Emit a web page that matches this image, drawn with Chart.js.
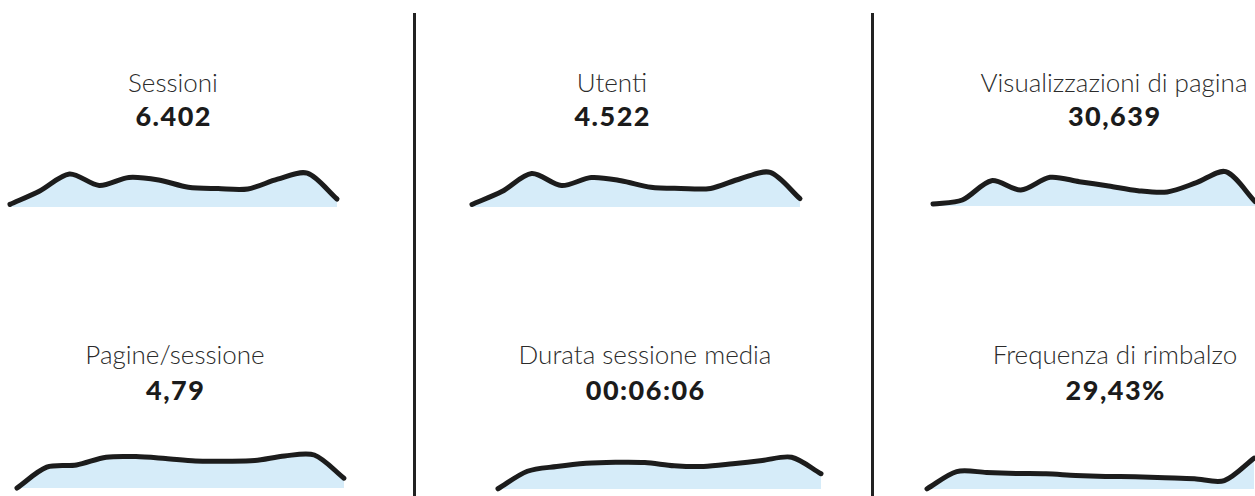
<!DOCTYPE html>
<html>
<head>
<meta charset="utf-8">
<script src="https://cdn.jsdelivr.net/npm/chart.js@4"></script>
<style>
  html, body { margin: 0; padding: 0; background: #fff; }
  body { width: 1255px; height: 496px; position: relative; overflow: hidden; }
  .t { position: absolute; font-family: Lato, "Open Sans", sans-serif; white-space: nowrap; line-height: 1.2; transform: translateX(-50%); }
  .title { font-weight: 300; font-size: 26px; color: #2b2b2b; }
  .val { font-weight: 900; font-size: 27px; color: #1b1b1b; letter-spacing: 1.5px; }
  .div { position: absolute; top: 13px; bottom: 0; width: 3px; background: #222; }
  canvas { position: absolute; }
</style>
</head>
<body>
<div class="div" style="left:413px"></div>
<div class="div" style="left:871px"></div>
<script>
// ---- data ----
const months = ['Gen','Feb','Mar','Apr','Mag','Giu','Lug','Ago','Set','Ott','Nov','Dic'];
const titles = ['Sessioni','Utenti','Visualizzazioni di pagina','Pagine/sessione','Durata sessione media','Frequenza di rimbalzo'];
const totals = ['6.402','4.522','30,639','4,79','00:06:06','29,43%'];
const sessioni = [440, 507, 592, 535, 575, 562, 526, 519, 517, 566, 596, 467];
const utenti = [311, 356, 419, 377, 405, 394, 371, 367, 367, 401, 423, 331];
const visualizzazioni = [2079, 2199, 2778, 2499, 2880, 2748, 2619, 2478, 2439, 2718, 3048, 2154];
const pagineSessione = [3.58, 4.62, 4.73, 5.12, 5.15, 5.05, 4.93, 4.92, 4.95, 5.18, 5.23, 4.07];
const durataSecondi = [278, 348, 367, 380, 384, 383, 370, 367, 378, 391, 404, 338];
const rimbalzo = [22.7, 31.3, 30.9, 30.4, 30.2, 29.4, 28.9, 28.7, 28.2, 27.7, 26.8, 38.0];
const seriesList = [sessioni, utenti, visualizzazioni, pagineSessione, durataSecondi, rimbalzo];
const yMin = [427, 302, 2019, 3.58, 277, 22.6];
const yMax = [627, 442, 3219, 5.58, 437, 42.6];

// ---- layout ----
const textCenters = [173, 612, 1114, 175, 645, 1115];
const titleBase = [93, 93, 93, 365, 365, 365];
const valBase = [127, 127, 127, 401, 401, 401];
const plotBox = [ // left, right, bottom of plot area
  [10, 337, 207], [471.7, 800, 207], [933, 1255, 206],
  [16.7, 343.3, 488], [498.3, 821.7, 488.5], [926.7, 1253.4, 489]
];
const PAD = 4, H = 40;

for (let i = 0; i < 6; i++) {
  const t = document.createElement('div');
  t.className = 't title';
  t.textContent = titles[i];
  t.style.left = textCenters[i] + 'px';
  t.style.top = (titleBase[i] - 0.987 * 26) + 'px';
  document.body.appendChild(t);
  const v = document.createElement('div');
  v.className = 't val';
  v.textContent = totals[i];
  v.style.left = (textCenters[i] + 0.75) + 'px';
  v.style.top = (valBase[i] - 0.987 * 27) + 'px';
  document.body.appendChild(v);

  const [x0, x1, yb] = plotBox[i];
  const c = document.createElement('canvas');
  const w = Math.round(x1 - x0) + 2 * PAD;
  c.width = w; c.height = H + 2 * PAD;
  c.style.width = w + 'px'; c.style.height = (H + 2 * PAD) + 'px';
  c.style.left = (x0 - PAD) + 'px';
  c.style.top = (yb - H - PAD) + 'px';
  document.body.appendChild(c);
  new Chart(c, {
    type: 'line',
    data: {
      labels: months,
      datasets: [{
        data: seriesList[i],
        borderColor: '#1c1c1c',
        borderWidth: 5,
        backgroundColor: '#d6ecf9',
        fill: 'start',
        tension: 0.3,
        pointRadius: 0,
        borderCapStyle: 'round',
        borderJoinStyle: 'round',
        clip: false
      }]
    },
    options: {
      responsive: false,
      animation: false,
      devicePixelRatio: 1,
      layout: { padding: PAD },
      plugins: { legend: { display: false }, tooltip: { enabled: false } },
      scales: {
        x: { display: false },
        y: { display: false, min: yMin[i], max: yMax[i] }
      }
    }
  });
}
</script>
</body>
</html>
